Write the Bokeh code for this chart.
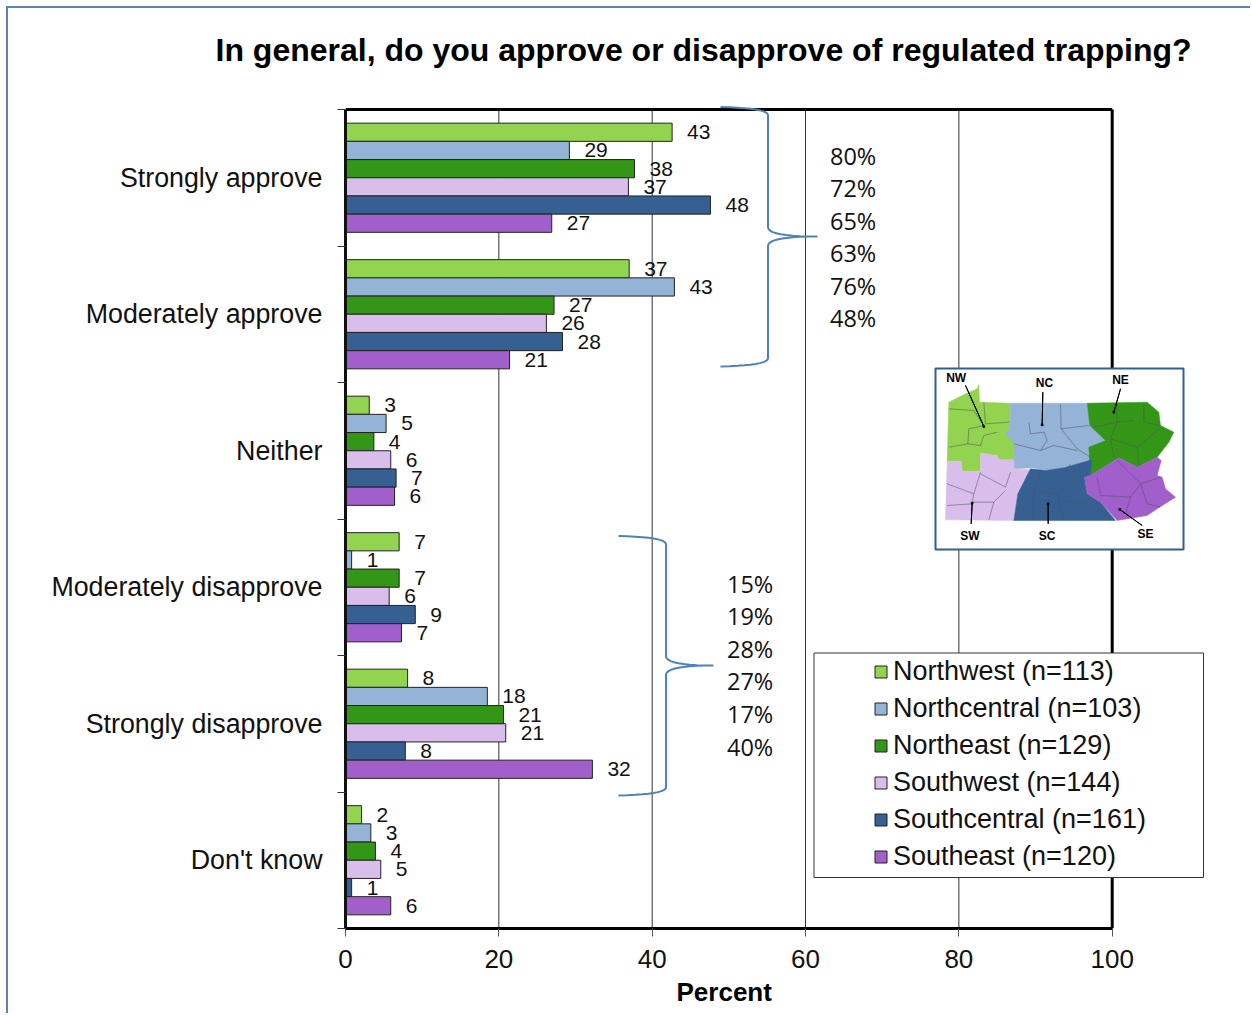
from bokeh.plotting import figure
from bokeh.models import (ColumnDataSource, Range1d, FixedTicker, Label, BoxAnnotation,
                          PolyAnnotation, Legend, LegendItem, Title)
from bokeh.transform import dodge
from bokeh.core.properties import value
from bokeh.embed import file_html
from bokeh.resources import INLINE

TITLE = "In general, do you approve or disapprove of regulated trapping?"
X_TITLE = "Percent"
categories = ["Strongly approve", "Moderately approve", "Neither",
              "Moderately disapprove", "Strongly disapprove", "Don't know"]
regions = ["Northwest (n=113)", "Northcentral (n=103)", "Northeast (n=129)",
           "Southwest (n=144)", "Southcentral (n=161)", "Southeast (n=120)"]
northwest = [42.6, 37.0, 3.1, 7.0, 8.1, 2.1]
northcentral = [29.2, 42.9, 5.3, 0.8, 18.5, 3.3]
northeast = [37.7, 27.2, 3.7, 7.0, 20.6, 3.9]
southwest = [36.9, 26.2, 5.9, 5.7, 20.9, 4.6]
southcentral = [47.6, 28.3, 6.6, 9.1, 7.8, 0.8]
southeast = [26.9, 21.4, 6.4, 7.3, 32.2, 5.9]
series = [northwest, northcentral, northeast, southwest, southcentral, southeast]
label_northwest = ["43", "37", "3", "7", "8", "2"]
label_northcentral = ["29", "43", "5", "1", "18", "3"]
label_northeast = ["38", "27", "4", "7", "21", "4"]
label_southwest = ["37", "26", "6", "6", "21", "5"]
label_southcentral = ["48", "28", "7", "9", "8", "1"]
label_southeast = ["27", "21", "6", "7", "32", "6"]
series_labels = [label_northwest, label_northcentral, label_northeast,
                 label_southwest, label_southcentral, label_southeast]
approve_totals = ["80%", "72%", "65%", "63%", "76%", "48%"]
disapprove_totals = ["15%", "19%", "28%", "27%", "17%", "40%"]
x_ticks = [0, 20, 40, 60, 80, 100]
colors = ["#92D450", "#95B3D7", "#339617", "#D9BEEC", "#366092", "#A05FCB"]

WIDTH, HEIGHT = 1244, 1007
L, R, T, B = 345, 1111.7, 109, 928   # position of the 0-100 / category box on the page
FT = 80                               # the drawing area runs on above the box
LABEL_FONT = "Liberation Sans"
TEXT_FONT = "Open Sans"
BLUE = "#4F81BD"

def dx(px):
    return (px - L) / (R - L) * 100

def dy(py):
    return (py - T) / (B - T) * 6

p = figure(width=WIDTH, height=HEIGHT, output_backend="svg", toolbar_location=None,
           x_range=Range1d(0, dx(8 + WIDTH)), y_range=Range1d(6, dy(FT)),
           min_border_left=L - 8, min_border_right=0,
           min_border_top=FT - 8, min_border_bottom=8 + HEIGHT - B)
p.margin = (8, 0, 0, 8)
p.styles = {"box-shadow": "-2px -2px 0 0 #5B82B0"}
p.outline_line_color = None

p.title = Title(text=TITLE, align="left", offset=215 - L, standoff=25, text_font=LABEL_FONT,
                text_font_style="bold", text_font_size="32px", text_color="#000000")
p.add_layout(Title(text=X_TITLE, align="left", offset=676 - L, standoff=13, vertical_align="top",
                   text_font=LABEL_FONT, text_font_style="bold", text_font_size="26px",
                   text_color="#000000"), "below")

# axes
p.xaxis.ticker = FixedTicker(ticks=x_ticks)
p.xaxis.bounds = (0, 100)
p.xaxis.major_label_text_font = LABEL_FONT
p.xaxis.major_label_text_font_size = "26px"
p.xaxis.major_label_text_line_height = 1.0
p.xaxis.major_label_text_color = "#111111"
p.xaxis.major_label_standoff = 13
p.xaxis.major_tick_out = 8
p.xaxis.major_tick_in = 0
p.xaxis.major_tick_line_color = "#555555"
p.xaxis.minor_tick_line_color = None
p.xaxis.axis_line_color = "#000000"
p.xaxis.axis_line_width = 3

centres = [i + 0.5 for i in range(len(categories))]
p.yaxis.ticker = FixedTicker(ticks=centres, minor_ticks=list(range(len(categories) + 1)))
p.yaxis.bounds = (0, 6)
p.yaxis.major_label_overrides = {c: n for c, n in zip(centres, categories)}
p.yaxis.major_label_text_font = LABEL_FONT
p.yaxis.major_label_text_font_size = "26.8px"
p.yaxis.major_label_text_color = "#111111"
p.yaxis.major_label_standoff = 15
p.yaxis.major_tick_in = 0
p.yaxis.major_tick_out = 0
p.yaxis.minor_tick_in = 0
p.yaxis.minor_tick_out = 8
p.yaxis.minor_tick_line_color = "#333333"
p.yaxis.axis_line_color = "#111111"
p.yaxis.axis_line_width = 3

p.grid.visible = False
inner = x_ticks[1:-1]
p.segment(x0=inner, x1=inner, y0=[0] * len(inner), y1=[6] * len(inner),
          line_color="#333333", line_width=1)
p.segment(x0=[0, 100], x1=[100, 100], y0=[0, 0], y1=[0, 6], line_color="#000000", line_width=3)

# bars and value labels
BAR = 0.1333
renderers = []
for i, (vals, labs, col) in enumerate(zip(series, series_labels, colors)):
    src = ColumnDataSource(dict(y=centres, v=vals, t=labs))
    off = (i - 2.5) * BAR
    r = p.hbar(y=dodge("y", off), left=0, right="v", height=BAR, source=src,
               fill_color=col, line_color="#222222", line_width=1)
    renderers.append(r)
    p.text(x="v", y=dodge("y", off), text="t", source=src, x_offset=15,
           text_font=value(LABEL_FONT), text_font_size="21px", text_color="#111111",
           text_align="left", text_baseline="middle")

# side totals
for i, t in enumerate(approve_totals):
    p.add_layout(Label(x=dx(829.5), y=dy(155.5 + i * 32.4), text=t, text_font=TEXT_FONT,
                       text_font_size="23.5px", text_color="#111111", text_baseline="middle"))
for i, t in enumerate(disapprove_totals):
    p.add_layout(Label(x=dx(726.5), y=dy(583 + i * 32.6), text=t, text_font=TEXT_FONT,
                       text_font_size="23.5px", text_color="#111111", text_baseline="middle"))

def quad(a, c, b, n=10):
    return [((1 - k / n) ** 2 * a[0] + 2 * (k / n) * (1 - k / n) * c[0] + (k / n) ** 2 * b[0],
             (1 - k / n) ** 2 * a[1] + 2 * (k / n) * (1 - k / n) * c[1] + (k / n) ** 2 * b[1])
            for k in range(n + 1)]

def poly(points, closed=True, **kw):
    pts = list(points) if closed else list(points) + list(points)[::-1]
    p.add_layout(PolyAnnotation(xs=[dx(a) for a, _ in pts], ys=[dy(b) for _, b in pts], **kw))

def brace(xa, xs, xc, y0, ym, y1):
    pts = (quad((xa, y0), (xs - 1, y0 + 1), (xs, y0 + 8)) +
           quad((xs, ym - 9), (xs + 1, ym), (xc, ym)) +
           quad((xs, ym + 9), (xs + 1, ym), (xc, ym))[::-1] +
           quad((xa, y1), (xs - 1, y1 - 1), (xs, y1 - 8))[::-1])
    poly(pts, closed=False, fill_alpha=0, line_color=BLUE, line_width=2, line_alpha=1)

brace(720, 767.5, 817, 106.5, 236, 366)
brace(618, 665.5, 713, 535.5, 665, 795)

# legend box
p.add_layout(BoxAnnotation(left=dx(813.5), right=dx(1203), top=dy(652.5), bottom=dy(877),
                           fill_color="white", fill_alpha=1, line_color="#333333", line_alpha=1,
                           line_width=1))
legend = Legend(items=[LegendItem(label=n, renderers=[r]) for n, r in zip(regions, renderers)],
                location=(528, 55), border_line_color=None, background_fill_alpha=0,
                padding=0, margin=0, glyph_width=15, glyph_height=15, label_standoff=5,
                label_text_font=LABEL_FONT, label_text_font_size="27px",
                label_text_color="#111111", spacing=3, label_height=34)
p.add_layout(legend)

# inset map
p.add_layout(BoxAnnotation(left=dx(935), right=dx(1183), top=dy(368), bottom=dy(549),
                           fill_color="white", fill_alpha=1, line_color="#2F5F97", line_alpha=1,
                           line_width=2))
nw = [(55,125),(105,100),(140,85),(145,72),(147,125),(240,128),(238,205),(222,218),(255,245),(250,298),(205,298),(200,285),(150,278),(150,332),(95,332),(92,302),(50,302)]
nc = [(240,128),(470,128),(478,195),(525,240),(475,260),(483,298),(400,322),(345,330),(305,322),(250,325),(252,250),(222,218),(238,205)]
ne = [(470,128),(650,125),(685,155),(690,195),(730,215),(715,245),(680,290),(620,320),(565,292),(480,345),(475,260),(525,240),(478,195)]
sw = [(50,302),(92,302),(95,332),(150,332),(150,278),(200,285),(205,298),(250,298),(250,325),(300,328),(262,400),(250,480),(45,478)]
sc = [(300,325),(345,330),(400,322),(483,298),(480,345),(462,350),(470,400),(510,425),(555,480),(250,480),(262,400)]
se = [(480,345),(565,292),(620,320),(680,290),(692,300),(680,345),(695,350),(705,385),(735,410),(680,445),(650,465),(560,480),(510,425),(470,400),(462,350)]
def mp(pts):
    return [(930 + a / 3, 360 + b / 3) for a, b in pts]
for shape, col in zip([nw, nc, ne, sw, sc, se], colors):
    poly(mp(shape), fill_color=col, fill_alpha=1, line_color=col, line_width=0.5, line_alpha=1)
counties = [
    [(55,145),(130,150),(160,195),(115,205),(112,250),(55,260)],
    [(160,125),(165,190),(235,185)], [(112,250),(150,255),(160,225),(200,215)],
    [(390,130),(392,205),(440,265),(480,290)], [(295,185),(300,220),(340,215),(350,240),(330,270),(250,250)],
    [(392,205),(475,195)], [(330,270),(370,255),(440,270)],
    [(560,130),(560,185),(540,235),(550,290)], [(640,130),(640,185),(690,195)],
    [(490,200),(560,185),(610,180)], [(540,235),(620,260),(680,210)], [(620,260),(625,315)],
    [(150,335),(130,400),(50,370)], [(150,340),(225,380),(240,335)], [(130,400),(125,425),(190,425),(225,390)],
    [(50,435),(125,430)], [(190,425),(175,478)],
    [(300,390),(380,400),(460,340)], [(330,330),(310,400),(305,478)], [(380,400),(400,478)],
    [(400,420),(470,430)], [(370,385),(420,310)],
    [(500,350),(510,405),(600,410),(630,370),(690,350)], [(630,370),(650,430),(690,440)],
    [(600,410),(585,460)], [(560,300),(630,370)],
]
for c in counties:
    poly(mp(c), closed=False, fill_alpha=0, line_color="#55555F", line_width=0.5, line_alpha=0.6)
leaders = [[(105,75),(160,198)], [(337,95),(335,193)], [(570,85),(550,155)],
           [(122,490),(125,428)], [(353,490),(353,430)], [(635,495),(568,447)]]
for c in leaders:
    poly(mp(c), closed=False, fill_alpha=0, line_color="#000000", line_width=1, line_alpha=1)
    (ex, ey), = mp([c[-1]])
    poly([(ex - 1, ey - 1), (ex + 1, ey - 1), (ex + 1, ey + 1), (ex - 1, ey + 1)],
         fill_color="#000000", fill_alpha=1, line_color="#000000", line_width=0.5, line_alpha=1)
map_labels = [("NW",77,52),("NC",342,67),("NE",570,59),("SW",118,527),("SC",350,527),("SE",645,519)]
for t, a, b in map_labels:
    (x, y), = mp([(a, b)])
    p.add_layout(Label(x=dx(x), y=dy(y), text=t, text_font=LABEL_FONT, text_font_style="bold",
                       text_font_size="12px", text_color="#000000", text_align="center",
                       text_baseline="middle"))

open("out.html", "w").write(file_html(p, INLINE))
